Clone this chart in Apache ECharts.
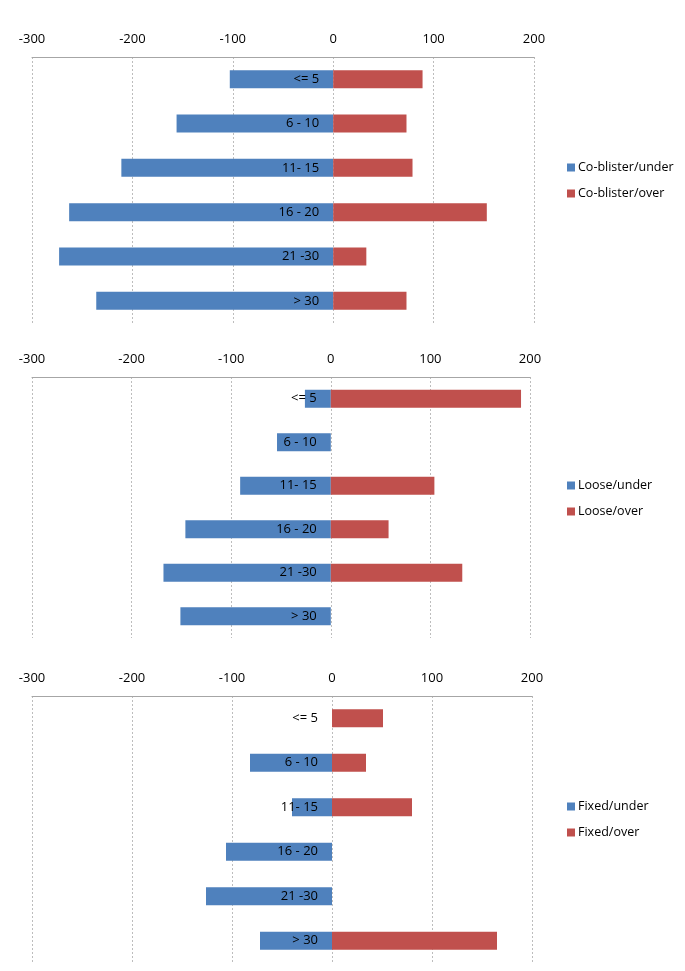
<!DOCTYPE html>
<html>
<head>
<meta charset="utf-8">
<script src="https://cdn.jsdelivr.net/npm/echarts@6/dist/echarts.min.js"></script>
<style>
html,body{margin:0;padding:0;background:#fff;}
#chart{width:685px;height:971px;}
</style>
</head>
<body>
<div id="chart"></div>
<script>
var categories = ['<= 5', '6 - 10', '11- 15', '16 - 20', '21 -30', '> 30'];
var tickValues = [-300, -200, -100, 0, 100, 200];

var coBlisterUnder = [-103, -156, -211, -263, -273, -236];
var coBlisterOver  = [89, 73, 79, 153, 33, 73];
var looseUnder = [-26, -54, -91, -146, -168, -151];
var looseOver  = [191, 0, 104, 58, 132, 0];
var fixedUnder = [0, -82, -40, -106, -126, -72];
var fixedOver  = [51, 34, 80, 0, 0, 165];

var panels = [
  {names: ['Co-blister/under', 'Co-blister/over'], under: coBlisterUnder, over: coBlisterOver},
  {names: ['Loose/under', 'Loose/over'], under: looseUnder, over: looseOver},
  {names: ['Fixed/under', 'Fixed/over'], under: fixedUnder, over: fixedOver}
];

var W = 685;
var grids = [
  {left: 32, right: 151, top: 57, height: 266},
  {left: 32, right: 155, top: 377, height: 261},
  {left: 32, right: 153, top: 696, height: 267}
];
var legendTops = [156, 474, 795];

var blue = '#4F81BD', red = '#C0504D';
var font = 'Open Sans';
var vMin = tickValues[0], vMax = tickValues[tickValues.length - 1];

var option = {
  animation: false,
  backgroundColor: '#ffffff',
  grid: grids.map(function (g) { return Object.assign({containLabel: false, outerBoundsMode: 'none'}, g); }),
  xAxis: grids.map(function (g, i) {
    return {
      type: 'value', gridIndex: i, position: 'top',
      min: vMin, max: vMax, interval: 100,
      axisLine: {show: true, onZero: false, lineStyle: {color: '#a6a6a6', width: 1}},
      axisTick: {show: false},
      axisLabel: {color: '#000', fontSize: 13, fontFamily: font, margin: 11},
      splitLine: {show: true, lineStyle: {color: '#bdbdbd', type: [2, 2], width: 1}}
    };
  }),
  yAxis: grids.map(function (g, i) {
    var w = W - g.left - g.right;
    return {
      type: 'category', gridIndex: i, data: categories, inverse: true, z: 10,
      position: 'left',
      offset: -w * (0 - vMin) / (vMax - vMin),
      axisLine: {show: false, onZero: false},
      axisTick: {show: false},
      axisLabel: {color: '#000', fontSize: 13, fontFamily: font, margin: 14},
      splitLine: {show: false}
    };
  }),
  legend: panels.map(function (p, i) {
    return {
      data: p.names, orient: 'vertical', left: 562, top: legendTops[i],
      icon: 'rect', itemWidth: 8, itemHeight: 8, itemGap: 13,
      textStyle: {color: '#000', fontSize: 12.5, fontFamily: font, padding: [0, 0, 0, -2]}
    };
  }),
  series: []
};

panels.forEach(function (p, i) {
  option.series.push({
    name: p.names[0], type: 'bar', xAxisIndex: i, yAxisIndex: i,
    data: p.under, barWidth: 18, barGap: '-100%',
    itemStyle: {color: blue}
  });
  option.series.push({
    name: p.names[1], type: 'bar', xAxisIndex: i, yAxisIndex: i,
    data: p.over, barWidth: 18, barGap: '-100%',
    itemStyle: {color: red}
  });
});

var chart = echarts.init(document.getElementById('chart'), null, {renderer: 'canvas'});
chart.setOption(option);
</script>
</body>
</html>
